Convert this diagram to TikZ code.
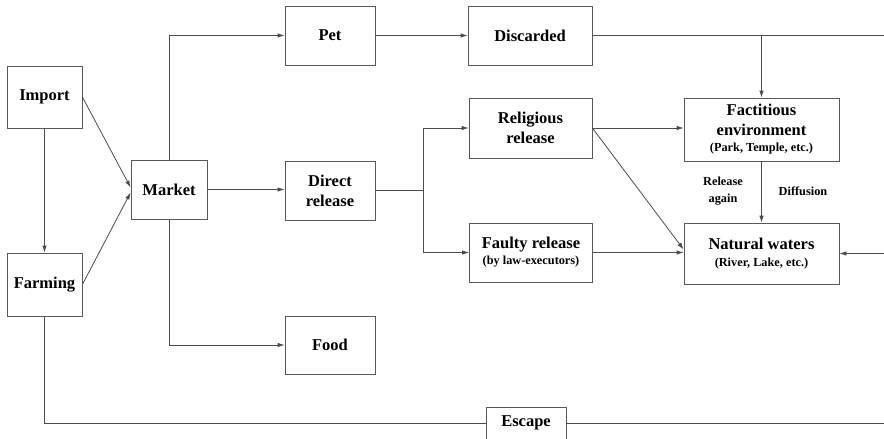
\documentclass[tikz,border=0pt]{standalone}
\usepackage{fontspec}
\setmainfont{Liberation Serif}
\usetikzlibrary{arrows.meta}
\newcommand{\note}[1]{{\fontsize{12.3}{14}\selectfont #1}}

\begin{document}
\begin{tikzpicture}[x=1pt,y=-1pt,
    box/.style={draw=black!65,line width=0.8pt,align=center,inner sep=0pt,
      font=\fontsize{16.5}{20}\selectfont\bfseries},
    lbl/.style={align=center,inner sep=0pt,
      font=\fontsize{12.3}{17}\selectfont\bfseries},
    flow/.style={draw=black!70,line width=0.8pt,-{Latex[length=7pt,width=4.5pt]}}]
  \useasboundingbox (0,0) rectangle (884,439);
  \draw
    (44.5,97) node[box,minimum width=75,minimum height=62] (imp){Import}
    (44.5,284.5) node[box,minimum width=75,minimum height=63] (farm){Farming}
    (169,189.5) node[box,minimum width=76,minimum height=59] (mkt){Market}
    (330,35.5) node[box,minimum width=90,minimum height=59] (pet){Pet}
    (330,190.5) node[box,minimum width=90,minimum height=59] (dir){Direct\\release}
    (330,345) node[box,minimum width=90,minimum height=58] (food){Food}
    (530,35.5) node[box,minimum width=124,minimum height=59] (disc){Discarded}
    (530.5,128) node[box,minimum width=123,minimum height=60] (relig){Religious\\release}
    (531,252.5) node[box,minimum width=123,minimum height=59] (faulty){Faulty release\\[-4pt]\note{(by law-executors)}}
    (761.5,129.5) node[box,minimum width=155,minimum height=63] (fact){Factitious\\environment\\[-4pt]\note{(Park, Temple, etc.)}}
    (761.5,253.5) node[box,minimum width=155,minimum height=61] (nat){Natural waters\\[-3pt]\note{(River, Lake, etc.)}}
    (526,423) node[box,minimum width=80,minimum height=32] (esc){Escape};
  \node[lbl] (again) at (723,191) {Release\\again};
  \node[lbl] (diff) at (803,191) {Diffusion};
  \coordinate (split) at (423,190.5);
  \coordinate (edge) at (884,0);
  \coordinate (inlet) at (884,253.5);
  \begin{scope}[flow]
    \draw (imp) -- (farm);
    \draw (imp.east) -- ([yshift=2pt]mkt.west);
    \draw (farm.east) -- ([yshift=-3pt]mkt.west);
    \draw (mkt.north) |- (pet.west);
    \draw (mkt.east) -- (mkt.east -| dir.west);
    \draw (mkt.south) |- (food.west);
    \draw (pet) -- (disc);
    \draw[-] (dir.east) -- (split);
    \draw (split) |- (relig.west);
    \draw (split) |- (faulty.west);
    \draw[-] (disc.east) -- (disc.east -| edge);
    \draw (disc.east -| fact.north) -- (fact.north);
    \draw (relig.east) -- (relig.east -| fact.west);
    \draw (relig.east) -- ([yshift=4pt]nat.west);
    \draw (faulty.east) -- (faulty.east -| nat.west);
    \draw (fact) -- (nat);
    \draw (inlet) -- (nat.east);
    \draw[-] (farm.south) |- (esc.west);
    \draw[-] (esc.east) -- (esc.east -| edge);
  \end{scope}
\end{tikzpicture}
\end{document}
